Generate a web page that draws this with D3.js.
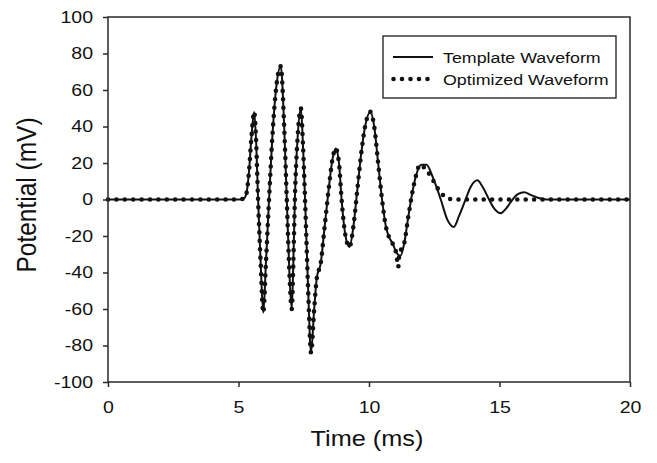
<!DOCTYPE html>
<html>
<head>
<meta charset="utf-8">
<script src="https://cdn.jsdelivr.net/npm/d3@7"></script>
<style>
	body { margin: 0; background: #fff; }
	text { font-family: "Liberation Sans", Arial, sans-serif; fill: #111; }
</style>
</head>
<body>
<svg id="chart" width="657" height="463"></svg>
<script>
// shared part of both waveforms (ms, mV)
var onsetTime = [0, 5.0, 5.2, 5.3, 5.4, 5.5, 5.6, 5.68, 5.75, 5.85, 5.95, 6.05, 6.17, 6.3, 6.45, 6.62, 6.75, 6.85, 6.95, 7.04, 7.1, 7.16, 7.27, 7.39, 7.47, 7.55, 7.67, 7.78, 7.9, 8.0, 8.15, 8.3, 8.45, 8.6, 8.72, 8.85, 8.95, 9.1, 9.25, 9.4, 9.55, 9.7, 9.85, 10.05, 10.2, 10.35, 10.5, 10.65, 10.75];
var onsetValue = [0, 0, 0.5, 3, 15, 35, 48, 30, 0, -35, -62, -35, 0, 35, 62, 73, 40, 0, -40, -60, -35, 0, 35, 50, 30, 0, -50, -84, -60, -43, -35, -15, 5, 22, 28, 20, 0, -20, -26, -15, 5, 25, 40, 48, 40, 20, 0, -15, -20];

// template waveform after the shared part
var templateTime = [10.9, 11.05, 11.2, 11.35, 11.5, 11.65, 11.8, 12.0, 12.2, 12.45, 12.75, 13.0, 13.25, 13.45, 13.7, 13.9, 14.15, 14.35, 14.6, 14.8, 15.05, 15.25, 15.5, 15.7, 15.95, 16.2, 16.5, 16.8, 20];
var templateValue = [-24, -29, -31, -24, -10, 3, 13, 19, 19, 12, 0, -11, -15, -9, 0, 7, 10.5, 7, 0, -5, -7.5, -5, 0, 3, 4, 2.5, 0.8, 0, 0];

// optimized waveform after the shared part
var optimizedTime = [10.9, 11.05, 11.12, 11.16, 11.35, 11.5, 11.65, 11.8, 11.95, 12.2, 12.4, 12.55, 12.8, 13.1, 13.3, 20];
var optimizedValue = [-24, -30, -37, -30, -24, -10, 3, 13, 19, 16, 12, 8, 3, 0.3, 0, 0];

var xTicks = [0, 5, 10, 15, 20];
var yTicks = [-100, -80, -60, -40, -20, 0, 20, 40, 60, 80, 100];
var seriesNames = ['Template Waveform', 'Optimized Waveform'];

var margin = {top: 17, right: 27, bottom: 81, left: 108},
	width = 657 - margin.left - margin.right,
	height = 463 - margin.top - margin.bottom,
	stretch = 1.15; // text in the original is a bit wide

var svg = d3.select('#chart');
var g = svg.append('g').attr('transform', 'translate(' + margin.left + ',' + margin.top + ')');

var x = d3.scaleLinear().domain([0, 20]).range([0, width]);
var y = d3.scaleLinear().domain([-100, 100]).range([height, 0]);

function toPoints(ts, vs) {
	return ts.map(function(t, i) { return {t: t, v: vs[i]}; });
}
var onset = toPoints(onsetTime, onsetValue);
var template = onset.concat(toPoints(templateTime, templateValue));
var optimized = onset.concat(toPoints(optimizedTime, optimizedValue));

var line = d3.line()
	.x(function(d) { return x(d.t); })
	.y(function(d) { return y(d.v); })
	.curve(d3.curveMonotoneX);

g.append('path').datum(template)
	.attr('d', line)
	.attr('fill', 'none')
	.attr('stroke', '#111')
	.attr('stroke-width', 2);

g.append('path').datum(optimized)
	.attr('d', line)
	.attr('fill', 'none')
	.attr('stroke', '#111')
	.attr('stroke-width', 4.6)
	.attr('stroke-linecap', 'round')
	.attr('stroke-dasharray', '0 8.4');

// frame
g.append('rect')
	.attr('width', width).attr('height', height)
	.attr('fill', 'none').attr('stroke', '#2a2a2a').attr('stroke-width', 1.5);

// axes
var xAxis = g.append('g')
	.attr('transform', 'translate(0,' + height + ')')
	.call(d3.axisBottom(x).tickValues(xTicks).tickSize(5).tickPadding(14).tickFormat(function(d) { return String(d); }));
var yAxis = g.append('g')
	.call(d3.axisLeft(y).tickValues(yTicks).tickSize(5).tickPadding(10).tickFormat(function(d) { return String(d); }));

[xAxis, yAxis].forEach(function(a) {
	a.select('.domain').remove();
	a.selectAll('line').attr('stroke', '#2a2a2a').attr('stroke-width', 1.5);
	a.selectAll('text').attr('font-size', 17).attr('fill', '#111')
		.attr('font-family', '"Liberation Sans", Arial, sans-serif');
});
yAxis.selectAll('text').attr('x', -15 / stretch).attr('transform', 'scale(' + stretch + ',1)');
xAxis.selectAll('text').attr('transform', 'scale(' + stretch + ',1)');

// axis titles
svg.append('text')
	.attr('transform', 'translate(367,446) scale(' + stretch + ',1)')
	.attr('text-anchor', 'middle')
	.attr('font-size', 22)
	.text('Time (ms)');

svg.append('text')
	.attr('transform', 'translate(36,195) rotate(-90) scale(1,' + stretch + ')')
	.attr('text-anchor', 'middle')
	.attr('font-size', 24.5)
	.text('Potential (mV)');

// legend
var legend = svg.append('g').attr('transform', 'translate(383,36)');
legend.append('rect')
	.attr('width', 233).attr('height', 62)
	.attr('fill', '#fff').attr('stroke', '#2a2a2a').attr('stroke-width', 1.4);

var rows = legend.selectAll('.row')
	.data(seriesNames)
	.enter()
	.append('g')
	.attr('class', 'row')
	.attr('transform', function(d, i) { return 'translate(10,' + (21 + i * 22) + ')'; });

rows.append('line')
	.attr('x1', function(d, i) { return i ? 0.5 : 0; })
	.attr('x2', function(d, i) { return i ? 36 : 40; })
	.attr('stroke', '#111')
	.attr('stroke-width', function(d, i) { return i ? 4.6 : 2; })
	.attr('stroke-linecap', function(d, i) { return i ? 'round' : 'butt'; })
	.attr('stroke-dasharray', function(d, i) { return i ? '0 8.5' : null; });

rows.append('text')
	.attr('transform', 'translate(50,6) scale(' + stretch + ',1)')
	.attr('font-size', 15.5)
	.text(function(d) { return d; });
</script>
</body>
</html>
